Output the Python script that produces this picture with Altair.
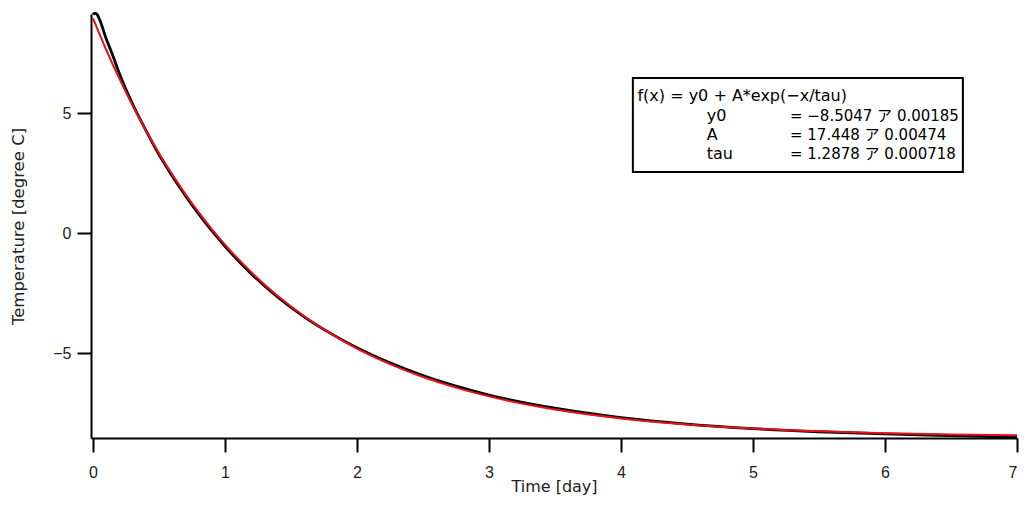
import altair as alt
import pandas as pd

# measured curve (black)
meas_x = [0, 0.015, 0.03, 0.05, 0.1, 0.15, 0.2, 0.3, 0.4, 0.5, 0.6, 0.7, 0.8, 0.9, 1.0,
          1.2, 1.4, 1.6, 1.8, 2.0, 2.25, 2.5, 2.75, 3.0, 3.5, 4.0, 4.5, 5.0, 5.5, 6.0, 6.5, 7.0]
meas_y = [9.10, 9.17, 9.12, 8.90, 8.10, 7.40, 6.65, 5.38, 4.29, 3.27, 2.38, 1.56, 0.80, 0.10, -0.55,
          -1.70, -2.67, -3.49, -4.18, -4.78, -5.41, -5.94, -6.38, -6.75, -7.30, -7.69, -7.96, -8.15,
          -8.28, -8.37, -8.44, -8.50]

# fitted curve (red)
fit_x = [0, 0.1, 0.2, 0.3, 0.4, 0.5, 0.6, 0.7, 0.8, 0.9, 1.0, 1.2, 1.4, 1.6, 1.8, 2.0,
         2.25, 2.5, 2.75, 3.0, 3.5, 4.0, 4.5, 5.0, 5.5, 6.0, 6.5, 7.0]
fit_y = [8.943, 7.640, 6.434, 5.317, 4.285, 3.329, 2.445, 1.627, 0.870, 0.169, -0.479,
         -1.633, -2.622, -3.468, -4.192, -4.813, -5.464, -6.000, -6.442, -6.806, -7.353,
         -7.723, -7.975, -8.145, -8.261, -8.339, -8.392, -8.428]

x_ticks = [0, 1, 2, 3, 4, 5, 6, 7]
y_ticks = [-5, 0, 5]

legend_lines = ["f(x) = y0 + A*exp(\u2212x/tau)", "y0", "A", "tau"]
legend_vals = ["", "= \u22128.5047 \u30a2 0.00185", "= 17.448 \u30a2 0.00474", "= 1.2878 \u30a2 0.000718"]

LABEL_FONT = "Liberation Sans"
TEXT_FONT = "DejaVu Sans, Noto Sans CJK JP"

meas = pd.DataFrame({"t": meas_x, "T": meas_y})
fit = pd.DataFrame({"t": fit_x, "T": fit_y})

xs = alt.Scale(domain=[-0.015, 7], nice=False, zero=False)
ys = alt.Scale(domain=[-8.54, 9.13], nice=False, zero=False)

X = alt.X("t:Q", scale=xs, title="Time [day]",
          axis=alt.Axis(values=x_ticks, format="d", labelPadding=12,
                        titleY=53, titleBaseline="alphabetic"))
Y = alt.Y("T:Q", scale=ys, title="Temperature [degree C]",
          axis=alt.Axis(values=y_ticks, format="d", titlePadding=26, labelPadding=6, titleFontSize=16.5))

black = alt.Chart(meas).mark_line(color="black", strokeWidth=2.8, interpolate="monotone").encode(x=X, y=Y)
red = alt.Chart(fit).mark_line(color="#e8101a", strokeWidth=2.0, interpolate="monotone").encode(x="t:Q", y="T:Q")

box_df = pd.DataFrame({"x1": [4.09], "x2": [6.59], "y1": [6.46], "y2": [2.55]})
box = alt.Chart(box_df).mark_rect(fill="white", stroke="black", strokeWidth=2).encode(
    x="x1:Q", x2="x2:Q", y="y1:Q", y2="y2:Q")

rows_y = [5.72, 4.87, 4.08, 3.29]
col1_x = [4.125, 4.65, 4.65, 4.65]
txt1 = pd.DataFrame({"x": col1_x, "y": rows_y, "s": legend_lines})
txt2 = pd.DataFrame({"x": [5.28] * 3, "y": rows_y[1:], "s": legend_vals[1:]})

t1 = alt.Chart(txt1).mark_text(align="left", baseline="middle", font=TEXT_FONT, fontSize=16, color="black").encode(
    x="x:Q", y="y:Q", text="s:N")
t2 = alt.Chart(txt2).mark_text(align="left", baseline="middle", font=TEXT_FONT, fontSize=15, color="black").encode(
    x="x:Q", y="y:Q", text="s:N")

chart = alt.layer(black, red, box, t1, t2).properties(
    width=926, height=424,
    autosize=alt.AutoSizeParams(type="none"),
    padding={"left": 83, "top": 6, "right": 5, "bottom": 58},
).configure_view(stroke=None).configure_axis(
    grid=False, domainColor="black", domainWidth=2, tickColor="black", tickWidth=2, tickSize=14,
    labelFont=LABEL_FONT, labelFontSize=16, labelColor="#222", titleFont=TEXT_FONT, titleFontSize=16,
    titleFontWeight="normal", titleColor="#222",
)

chart.save("out.html", embed_options={"renderer": "svg", "actions": False})
